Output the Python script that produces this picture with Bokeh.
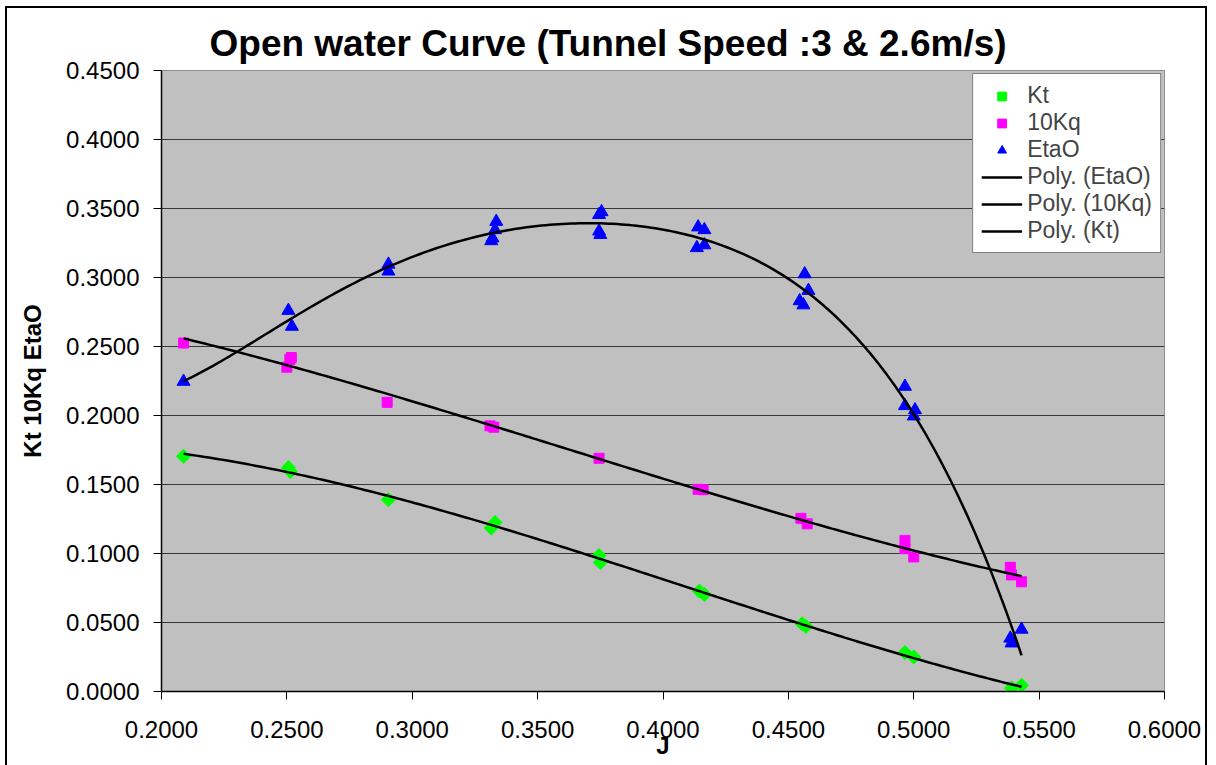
import numpy as np
from bokeh.plotting import figure
from bokeh.models import Range1d, FixedTicker, NumeralTickFormatter, Legend, LegendItem
from bokeh.embed import file_html
from bokeh.resources import INLINE

# ---- data ----
J_kt = [0.2088, 0.2506, 0.2514, 0.2905, 0.3315, 0.3330, 0.3745, 0.3750, 0.4145, 0.4165,
        0.4555, 0.4570, 0.4965, 0.5000, 0.5390, 0.5430]
Kt = [0.1705, 0.1622, 0.1595, 0.1390, 0.1185, 0.1225, 0.0985, 0.0935, 0.0728, 0.0703,
      0.0490, 0.0472, 0.0282, 0.0250, 0.0025, 0.0045]

J_kq = [0.2088, 0.2500, 0.2512, 0.2518, 0.2900, 0.3310, 0.3325, 0.3745, 0.4140, 0.4160,
        0.4550, 0.4575, 0.4965, 0.4965, 0.5000, 0.5385, 0.5390, 0.5430]
Kq10 = [0.2525, 0.2350, 0.2405, 0.2420, 0.2095, 0.1925, 0.1915, 0.1690, 0.1465, 0.1462,
        0.1255, 0.1215, 0.1095, 0.1035, 0.0975, 0.0900, 0.0845, 0.0795]

J_eta = [0.2088, 0.2506, 0.2520, 0.2905, 0.2905, 0.3315, 0.3320, 0.3330, 0.3335, 0.3745,
         0.3755, 0.3745, 0.3750, 0.4140, 0.4165, 0.4135, 0.4165, 0.4565, 0.4580, 0.4545,
         0.4560, 0.4965, 0.4965, 0.5005, 0.5000, 0.5385, 0.5390, 0.5430]
Eta = [0.2246, 0.2760, 0.2645, 0.3095, 0.3045, 0.3265, 0.3285, 0.3345, 0.3405, 0.3455,
       0.3475, 0.3335, 0.3310, 0.3365, 0.3345, 0.3215, 0.3235, 0.3025, 0.2905, 0.2830,
       0.2800, 0.2210, 0.2070, 0.2040, 0.1995, 0.0385, 0.0350, 0.0450]

x_ticks = [0.20, 0.25, 0.30, 0.35, 0.40, 0.45, 0.50, 0.55, 0.60]
y_ticks = [0.00, 0.05, 0.10, 0.15, 0.20, 0.25, 0.30, 0.35, 0.40, 0.45]

title_text = "Open water Curve (Tunnel Speed :3 & 2.6m/s)"
x_label = "J"
y_label = "Kt 10Kq EtaO"

# polynomial trend lines (like Excel "Poly." trendlines)
def trend(x, y, deg):
    c = np.polyfit(x, y, deg)
    xs = np.linspace(min(x), max(x), 200)
    return xs, np.polyval(c, xs)

FONT = "Liberation Sans"

p = figure(frame_width=1003, frame_height=621,
           x_range=Range1d(0.2, 0.6), y_range=Range1d(0.0, 0.45),
           output_backend="svg", toolbar_location=None,
           min_border_left=154, min_border_right=41, min_border_top=62, min_border_bottom=74,
           background_fill_color="#C0C0C0", border_fill_color="white")
p.margin = (6, 0, 0, 5)
p.styles = {"border": "2px solid black"}
p.outline_line_color = "#909090"

p.title.text = title_text
p.title.text_font = FONT
p.title.text_font_size = "37px"
p.title.text_font_style = "bold"
p.title.text_color = "black"
p.title.align = "left"
p.title.offset = 48
p.title.standoff = 14

p.xgrid.visible = False
p.ygrid.ticker = FixedTicker(ticks=y_ticks)
p.ygrid.grid_line_color = "#383838"
p.ygrid.grid_line_width = 1

for ax, ticks in ((p.xaxis[0], x_ticks), (p.yaxis[0], y_ticks)):
    ax.ticker = FixedTicker(ticks=ticks)
    ax.formatter = NumeralTickFormatter(format="0.0000")
    ax.major_label_text_font = FONT
    ax.major_label_text_font_size = "24px"
    ax.major_label_text_color = "black"
    ax.axis_label_text_font = FONT
    ax.axis_label_text_font_size = "24px"
    ax.axis_label_text_font_style = "bold"
    ax.axis_label_text_color = "black"
    ax.axis_line_color = "black"
    ax.axis_line_width = 1.5
    ax.major_tick_line_color = "black"
    ax.major_tick_in = 0
    ax.major_tick_out = 8
    ax.minor_tick_line_color = None

p.xaxis.axis_label = x_label
p.yaxis.axis_label = y_label
p.xaxis.major_label_standoff = 21
p.yaxis.major_label_standoff = 14
p.xaxis.axis_label_standoff = -9
p.yaxis.axis_label_standoff = 17

r_kt = p.scatter(J_kt, Kt, marker="square", angle=np.pi / 4, size=10,
                 fill_color="#00FF00", line_color="#00FF00")
r_kq = p.scatter(J_kq, Kq10, marker="square", size=10,
                 fill_color="#FF00FF", line_color="#FF00FF")
r_eta = p.scatter(J_eta, Eta, marker="triangle", size=13,
                  fill_color="#0000FF", line_color="#0000FF")

xe, ye = trend(J_eta, Eta, 6)
xq, yq = trend(J_kq, Kq10, 3)
xk, yk = trend(J_kt, Kt, 3)
l_eta = p.line(xe, ye, line_color="black", line_width=2.5)
l_kq = p.line(xq, yq, line_color="black", line_width=2.5)
l_kt = p.line(xk, yk, line_color="black", line_width=2.5)

legend = Legend(items=[
    LegendItem(label="Kt", renderers=[r_kt]),
    LegendItem(label="10Kq", renderers=[r_kq]),
    LegendItem(label="EtaO", renderers=[r_eta]),
    LegendItem(label="Poly. (EtaO)", renderers=[l_eta]),
    LegendItem(label="Poly. (10Kq)", renderers=[l_kq]),
    LegendItem(label="Poly. (Kt)", renderers=[l_kt]),
], location="top_right")
legend.label_text_font = FONT
legend.label_text_font_size = "23px"
legend.label_height = 22
legend.glyph_height = 22
legend.glyph_width = 41
legend.label_standoff = 5
legend.spacing = -1
legend.padding = 8
legend.margin = 3
legend.border_line_color = "black"
legend.border_line_width = 1
legend.background_fill_color = "white"
legend.background_fill_alpha = 1.0
p.add_layout(legend)

open("out.html", "w").write(file_html(p, INLINE))
